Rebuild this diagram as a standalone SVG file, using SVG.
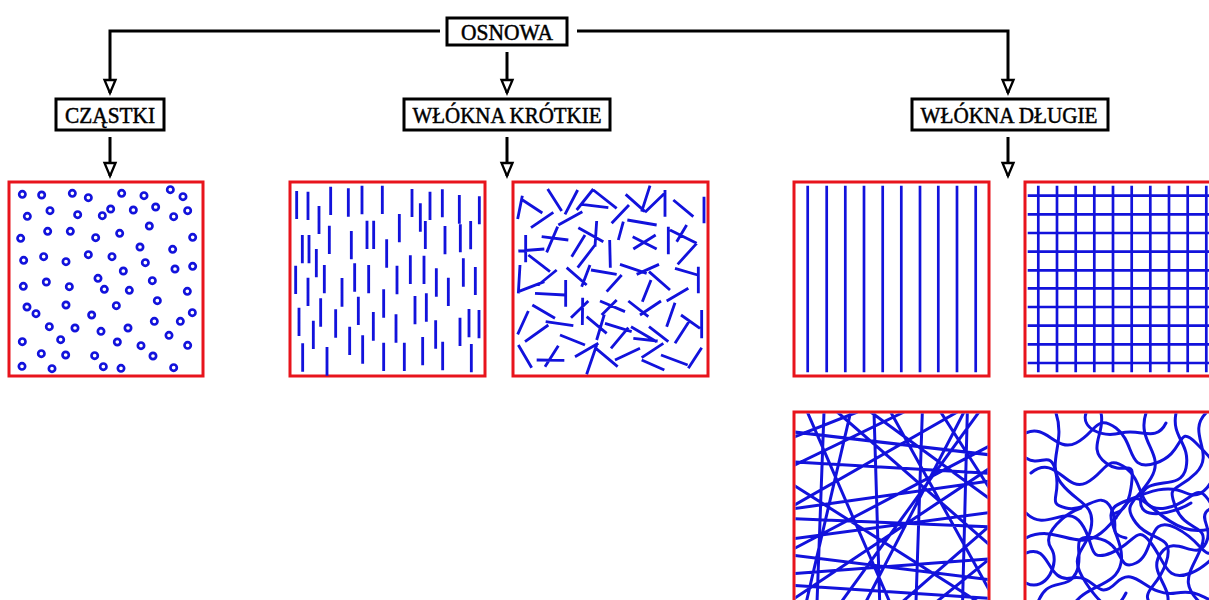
<svg xmlns="http://www.w3.org/2000/svg" width="1209" height="600" viewBox="0 0 1209 600">
<style>
.box{fill:#fff;stroke:#000;stroke-width:3}
.lbl{font-family:"Liberation Serif","Times New Roman",serif;font-size:23px;text-anchor:middle;fill:#000;stroke:#000;stroke-width:0.5}
.conn{fill:none;stroke:#000;stroke-width:3}
.panel{fill:#fff;stroke:#e8141c;stroke-width:3}
.fib{fill:none;stroke:#1212dc;stroke-width:2.7;stroke-linecap:butt}
.fibz{fill:none;stroke:#1212dc;stroke-width:8.5;stroke-linecap:butt}
.fibw{fill:none;stroke:#1212dc;stroke-width:9;stroke-linecap:butt}
.dot{fill:none;stroke:#1212dc;stroke-width:8}
.curl{fill:none;stroke:#1212dc;stroke-width:3;stroke-linecap:round;stroke-linejoin:round}
</style>
<defs>
<marker id="arr" markerUnits="userSpaceOnUse" markerWidth="18" markerHeight="14" refX="14" refY="7" orient="auto" viewBox="0 0 18 14" overflow="visible">
<path d="M1,1.5 L14,7 L1,12.5 Z" fill="#fff" stroke="#000" stroke-width="2.3"/>
</marker>
<clipPath id="c6"><rect x="795.5" y="413.5" width="192" height="192"/></clipPath>
<clipPath id="c7"><rect x="1026.5" y="413.5" width="192" height="192"/></clipPath>
<clipPath id="c5"><rect x="1026.5" y="183.5" width="192" height="191"/></clipPath>
</defs>

<g id="connectors">
<path class="conn" d="M440,31 H110 V93" marker-end="url(#arr)"/>
<path class="conn" d="M577,31 H1008 V93" marker-end="url(#arr)"/>
<path class="conn" d="M507,52 V93" marker-end="url(#arr)"/>
<path class="conn" d="M110,137 V176" marker-end="url(#arr)"/>
<path class="conn" d="M507,137 V176" marker-end="url(#arr)"/>
<path class="conn" d="M1008,137 V176" marker-end="url(#arr)"/>
</g>

<g id="osnowa">
<rect class="box" x="447" y="18" width="120" height="27"/>
<text class="lbl" x="507" y="39.5" textLength="92" lengthAdjust="spacingAndGlyphs">OSNOWA</text>
</g>
<g id="czastki">
<rect class="box" x="56" y="99" width="108" height="31"/>
<text class="lbl" x="110" y="123" textLength="90" lengthAdjust="spacingAndGlyphs">CZĄSTKI</text>
</g>
<g id="wlokna-krotkie">
<rect class="box" x="404" y="99" width="206" height="31"/>
<text class="lbl" x="507" y="123" textLength="189" lengthAdjust="spacingAndGlyphs">WŁÓKNA KRÓTKIE</text>
</g>
<g id="wlokna-dlugie">
<rect class="box" x="912" y="99" width="196" height="31"/>
<text class="lbl" x="1009" y="123" textLength="177" lengthAdjust="spacingAndGlyphs">WŁÓKNA DŁUGIE</text>
</g>

<g id="panel-czastki">
<rect class="panel" x="9" y="182" width="194" height="194"/>
<g transform="translate(0,175) scale(0.33333)">
<g class="dot">
<circle cx="67" cy="58" r="9.5"/><circle cx="125" cy="60" r="9.5"/><circle cx="217" cy="55" r="9.5"/><circle cx="265" cy="68" r="9.5"/><circle cx="365" cy="55" r="9.5"/><circle cx="432" cy="62" r="9.5"/><circle cx="511" cy="44" r="9.5"/><circle cx="549" cy="65" r="9.5"/>
<circle cx="82" cy="124" r="9.5"/><circle cx="150" cy="107" r="9.5"/><circle cx="233" cy="119" r="9.5"/><circle cx="307" cy="122" r="9.5"/><circle cx="332" cy="102" r="9.5"/><circle cx="400" cy="105" r="9.5"/><circle cx="467" cy="96" r="9.5"/><circle cx="521" cy="125" r="9.5"/><circle cx="563" cy="107" r="9.5"/>
<circle cx="62" cy="190" r="9.5"/><circle cx="143" cy="169" r="9.5"/><circle cx="211" cy="169" r="9.5"/><circle cx="287" cy="188" r="9.5"/><circle cx="359" cy="175" r="9.5"/><circle cx="448" cy="153" r="9.5"/><circle cx="578" cy="187" r="9.5"/>
<circle cx="71" cy="256" r="9.5"/><circle cx="131" cy="245" r="9.5"/><circle cx="198" cy="260" r="9.5"/><circle cx="265" cy="239" r="9.5"/><circle cx="336" cy="245" r="9.5"/><circle cx="420" cy="216" r="9.5"/><circle cx="436" cy="263" r="9.5"/><circle cx="518" cy="223" r="9.5"/><circle cx="525" cy="282" r="9.5"/><circle cx="578" cy="274" r="9.5"/>
<circle cx="70" cy="334" r="9.5"/><circle cx="139" cy="321" r="9.5"/><circle cx="208" cy="335" r="9.5"/><circle cx="294" cy="310" r="9.5"/><circle cx="313" cy="343" r="9.5"/><circle cx="370" cy="288" r="9.5"/><circle cx="388" cy="346" r="9.5"/><circle cx="457" cy="317" r="9.5"/><circle cx="562" cy="349" r="9.5"/>
<circle cx="81" cy="396" r="9.5"/><circle cx="108" cy="416" r="9.5"/><circle cx="198" cy="390" r="9.5"/><circle cx="275" cy="420" r="9.5"/><circle cx="349" cy="392" r="9.5"/><circle cx="472" cy="377" r="9.5"/><circle cx="577" cy="413" r="9.5"/>
<circle cx="148" cy="455" r="9.5"/><circle cx="225" cy="459" r="9.5"/><circle cx="303" cy="469" r="9.5"/><circle cx="384" cy="459" r="9.5"/><circle cx="463" cy="439" r="9.5"/><circle cx="541" cy="439" r="9.5"/><circle cx="507" cy="481" r="9.5"/>
<circle cx="67" cy="500" r="9.5"/><circle cx="182" cy="494" r="9.5"/><circle cx="352" cy="501" r="9.5"/><circle cx="423" cy="512" r="9.5"/><circle cx="563" cy="511" r="9.5"/>
<circle cx="124" cy="536" r="9.5"/><circle cx="197" cy="540" r="9.5"/><circle cx="284" cy="542" r="9.5"/><circle cx="459" cy="543" r="9.5"/>
<circle cx="66" cy="574" r="9.5"/><circle cx="156" cy="581" r="9.5"/><circle cx="310" cy="575" r="9.5"/><circle cx="363" cy="580" r="9.5"/><circle cx="521" cy="578" r="9.5"/>
</g>
</g>
</g>

<g id="panel-krotkie-rownolegle">
<rect class="panel" x="290" y="182" width="195" height="194"/>
<g transform="translate(280,175) scale(0.33333)">
<path class="fibz" d="M50,48V132 M84,50V135 M117,93V177 M152,35V120 M205,40V125 M246,32V118 M307,32V117 M396,42V126 M421,85V170 M450,50V135 M487,43V127 M538,60V146 M598,64V148 M148,152V237 M67,180V265 M87,180V265 M109,222V307 M214,168V253 M261,137V222 M281,137V222 M358,117V202 M436,138V222 M320,193V278 M495,153V238 M541,148V232 M572,138V223 M47,272V357 M84,308V393 M133,270V355 M224,265V350 M266,270V355 M186,309V395 M351,272V358 M391,241V327 M432,242V327 M469,280V365 M505,308V393 M550,250V335 M586,276V360 M57,398V483 M100,437V522 M122,370V455 M167,403V488 M235,365V450 M311,343V428 M280,411V497 M348,418V503 M405,363V448 M439,355V440 M467,436V521 M540,428V513 M567,402V487 M597,405V490 M68,505V590 M141,516V602 M209,455V540 M248,481V566 M311,503V588 M373,503V588 M428,486V571 M488,500V586 M574,507V592"/>
</g>
</g>

<g id="panel-krotkie-losowe">
<rect class="panel" x="513" y="182" width="195" height="194"/>
<g transform="translate(505,175) scale(0.33333)">
<path class="fibz" d="M52,62L38,132 M48,72L112,114 M128,42L170,108 M218,45L180,118 M265,42L215,105 M265,45L335,100 M230,88L310,98 M435,32L410,110 M362,58L420,110 M480,45L480,125 M482,52L420,112 M505,75L565,125 M597,65L597,145 M78,158L145,112 M160,150L232,110 M320,145L372,90 M367,135L455,150 M355,140L340,195 M158,155L125,232 M110,185L190,195 M220,158L295,200 M275,138L270,215 M240,180L200,245 M40,228L118,222 M62,180L62,262 M383,185L455,222 M452,180L385,222 M490,155L490,238 M495,165L575,205 M575,205L518,268 M545,150L515,200 M314,195L316,278 M270,210L218,278 M70,240L135,290 M45,270L40,355 M40,350L118,320 M155,285L100,330 M185,278L245,330 M255,270L230,335 M258,285L335,298 M345,268L425,295 M462,268L395,298 M350,300L305,350 M432,290L495,345 M438,315L412,380 M510,280L578,300 M580,275L580,355 M550,340L485,378 M90,355L180,360 M182,315L182,395 M70,408L38,478 M82,390L150,430 M122,440L205,452 M233,368L232,450 M250,378L198,428 M285,378L360,410 M335,375L290,420 M370,378L430,425 M468,378L405,420 M510,383L485,455 M528,420L585,460 M590,405L590,490 M555,435L510,505 M245,425L305,475 M298,418L275,495 M300,445L380,470 M378,455L455,500 M432,455L490,500 M130,450L60,500 M165,480L240,510 M370,458L318,520 M385,490L458,498 M210,545L280,505 M275,510L245,598 M270,518L338,575 M330,555L405,520 M410,548L475,505 M40,510L80,578 M95,555L178,556 M160,512L120,575 M410,555L478,585 M468,540L548,570 M590,518L550,580"/>
</g>
</g>

<g id="panel-dlugie-rownolegle">
<rect class="panel" x="794" y="182" width="195" height="194"/>
<path class="fib" d="M807.7,185.7V372.3 M826.7,185.7V372.3 M845.3,185.7V372.3 M864,185.7V372.3 M882.7,185.7V372.3 M901.3,185.7V372.3 M920,185.7V372.3 M938.3,185.7V372.3 M957,185.7V372.3 M975.7,185.7V372.3"/>
</g>

<g id="panel-dlugie-siatka">
<rect class="panel" x="1025" y="182" width="195" height="194"/>
<g clip-path="url(#c5)">
<path class="fib" d="M1038.3,185.7V372.3 M1057,185.7V372.3 M1075.7,185.7V372.3 M1094.3,185.7V372.3 M1113,185.7V372.3 M1131.7,185.7V372.3 M1150.3,185.7V372.3 M1169,185.7V372.3 M1187.7,185.7V372.3 M1206.3,185.7V372.3"/>
<path class="fib" d="M1027.7,195.7H1220 M1027.7,214.3H1220 M1027.7,233H1220 M1027.7,251.7H1220 M1027.7,270.3H1220 M1027.7,288.3H1220 M1027.7,307H1220 M1027.7,325.7H1220 M1027.7,344.3H1220 M1027.7,363H1220"/>
</g>
</g>

<g id="panel-dlugie-losowe">
<rect class="panel" x="794" y="412" width="195" height="195"/>
<g clip-path="url(#c6)">
<g transform="translate(794,412) scale(0.33333)">
<path class="fibw" d="M40,0L300,600 M90,0L68,600 M240,0L258,600 M385,0L365,600 M520,0L505,600 M130,0L600,410 M230,0L600,270 M290,0L600,560 M0,60L600,130 M0,150L600,185 M0,290L600,205 M0,320L600,345 M0,430L600,505 M0,485L600,440 M490,0L0,280 M555,0L120,600 M330,0L0,160 M190,0L0,75 M600,95L0,410 M600,330L290,600 M600,430L390,600 M440,0L600,250 M0,220L600,600 M170,0L30,600 M600,160L0,560 M0,380L600,300 M0,520L600,560 M510,0L200,600"/>
</g>
</g>
</g>

<g id="panel-dlugie-splatane">
<rect class="panel" x="1025" y="412" width="195" height="195"/>
<g clip-path="url(#c7)">
<g transform="translate(1026,413)">
<path class="curl" d="M0,20 C20,10 30,40 50,30 S70,0 90,15 S100,60 130,50 S150,10 170,30 S200,60 195,80"/>
<path class="curl" d="M5,60 C30,40 40,80 60,70 S80,40 100,55 S110,100 140,95 S170,60 190,100"/>
<path class="curl" d="M0,100 C20,120 40,90 55,110 S60,150 85,140 S110,110 125,130 S140,170 165,160 S190,130 200,150"/>
<path class="curl" d="M10,195 C20,160 40,180 50,160 S40,120 70,125 S90,160 110,150 S120,100 150,115 S175,150 195,135"/>
<path class="curl" d="M30,0 C40,30 20,50 35,70 S70,90 65,115 S40,140 60,170 S90,200 100,180"/>
<path class="curl" d="M120,0 C110,30 140,40 125,65 S95,90 110,110 S150,120 140,150 S110,175 130,200"/>
<path class="curl" d="M180,0 C160,20 190,40 170,60 S140,70 150,95 S185,110 175,135 S150,170 180,195"/>
<path class="curl" d="M0,140 C25,130 20,170 45,165 S70,190 90,170 S120,185 150,180 S180,195 200,185"/>
<path class="curl" d="M75,0 C80,20 60,35 80,50 S110,40 105,75 S80,95 90,105"/>
<path class="curl" d="M0,45 C15,55 25,35 30,60 S20,90 40,95 S75,75 85,95 S80,120 100,125"/>
<path class="curl" d="M150,0 C145,25 165,30 160,55 S120,60 115,85 S150,100 165,90"/>
<path class="curl" d="M0,125 C30,110 50,140 75,120 S100,75 120,90 S160,130 200,110"/>
<path class="curl" d="M45,195 C60,170 90,175 95,150 S70,100 95,90 S140,70 160,80 S190,60 200,40"/>
<path class="curl" d="M0,170 C20,180 35,150 25,135 S40,100 55,95"/>
<path class="curl" d="M140,195 C150,175 120,160 135,140 S170,150 180,130 S160,100 200,90"/>
<path class="curl" d="M60,0 C55,15 75,25 95,20 S130,30 140,10"/>
</g>
</g>
</g>
</svg>
